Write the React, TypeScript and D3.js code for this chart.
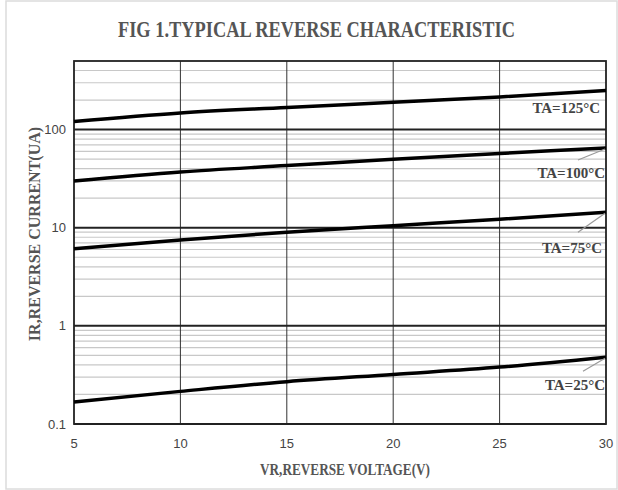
import React from 'react';
import * as d3 from 'd3';

const voltages = [5, 10, 15, 20, 25, 30];
const ta125 = [121, 148, 168, 190, 215, 250];
const ta100 = [30, 37, 43, 50, 57, 65];
const ta75 = [6.1, 7.5, 9.0, 10.5, 12.2, 14.4];
const ta25 = [0.168, 0.215, 0.27, 0.32, 0.38, 0.48];

const xTicks = [5, 10, 15, 20, 25, 30];
const yTicks = [0.1, 1, 10, 100];
const yTickLabels = ['0.1', '1', '10', '100'];

const seriesNames = ['TA=125°C', 'TA=100°C', 'TA=75°C', 'TA=25°C'];
const seriesValues = [ta125, ta100, ta75, ta25];

export default function App() {
  const width = 618;
  const height = 490;
  const margin = { top: 61, right: 12, bottom: 66, left: 74 };

  const x = d3.scaleLinear().domain([5, 30]).range([margin.left, width - margin.right]);
  const y = d3.scaleLog().domain([0.1, 500]).range([height - margin.bottom, margin.top]);

  // minor gridlines 2..9 in each decade
  const minors: number[] = [];
  for (let dec = 0.1; dec < 500; dec *= 10) {
    for (let k = 2; k <= 9; k++) {
      const v = +(dec * k).toPrecision(3);
      if (v < 500) minors.push(v);
    }
  }

  const line = d3.line<number>()
    .curve(d3.curveMonotoneX)
    .x((_, i) => x(voltages[i]))
    .y(d => y(d));

  // label placement relative to the curve end (px)
  const labelPos = [
    { dx: -6, dy: 22, lx: 0, ly: 0, len: 0 },
    { dx: -1, dy: 30, lx: -28, ly: 12, len: 1 },
    { dx: -4, dy: 41, lx: -28, ly: 20, len: 1 },
    { dx: -1, dy: 33, lx: -23, ly: 14, len: 1 },
  ];

  const serif = '"Liberation Serif", "Times New Roman", serif';
  const sans = '"Liberation Sans", Arial, sans-serif';

  return (
    <svg width={width} height={height} style={{ position: 'absolute', left: 0, top: 0, background: '#fff' }}>
      <rect x={6} y={1} width={611} height={488} fill="none" stroke="#dcdcdc" strokeWidth={1.5} />
      <text x={118} y={37} fontFamily={serif} fontWeight="bold" fontSize={24} fill="#555"
        textLength={397} lengthAdjust="spacingAndGlyphs">
        FIG 1.TYPICAL REVERSE CHARACTERISTIC
      </text>

      <g>
        {minors.map(v => (
          <line key={'m' + v} x1={x(5)} x2={x(30)} y1={y(v)} y2={y(v)} stroke="#c8c8c8" strokeWidth={1.2} />
        ))}
        {xTicks.slice(1, -1).map(t => (
          <line key={'v' + t} x1={x(t)} x2={x(t)} y1={y(500)} y2={y(0.1)} stroke="#333" strokeWidth={1} />
        ))}
        {yTicks.map(t => (
          <line key={'M' + t} x1={x(5)} x2={x(30)} y1={y(t)} y2={y(t)} stroke="#222" strokeWidth={2} />
        ))}
        <rect x={x(5)} y={y(500)} width={x(30) - x(5)} height={y(0.1) - y(500)} fill="none" stroke="#222" strokeWidth={1.8} />
      </g>

      <g fontFamily={sans} fontSize={13} fill="#444">
        {yTicks.map((t, i) => (
          <text key={'yl' + t} x={x(5) - 8} y={y(t)} dy="0.35em" textAnchor="end">{yTickLabels[i]}</text>
        ))}
        {xTicks.map(t => (
          <text key={'xl' + t} x={x(t)} y={y(0.1) + 19} dy="0.35em" textAnchor="middle">{t}</text>
        ))}
      </g>

      {seriesValues.map((vals, i) => (
        <path key={'s' + i} d={line(vals) || ''} fill="none" stroke="#000" strokeWidth={3.5} />
      ))}

      {seriesValues.map((vals, i) => {
        const ex = x(30);
        const ey = y(vals[vals.length - 1]);
        const p = labelPos[i];
        return (
          <g key={'lab' + i}>
            {p.len > 0 && (
              <line x1={ex - 1} y1={ey + 1} x2={ex + p.lx} y2={ey + p.ly} stroke="#999" strokeWidth={1.2} />
            )}
            <text x={ex + p.dx} y={ey + p.dy} textAnchor="end" fontFamily={serif} fontWeight="bold" fontSize={15} fill="#444">
              {seriesNames[i]}
            </text>
          </g>
        );
      })}

      <text x={260} y={475} fontFamily={serif} fontWeight="bold" fontSize={17} fill="#555"
        textLength={170} lengthAdjust="spacingAndGlyphs">
        VR,REVERSE VOLTAGE(V)
      </text>
      <text transform="translate(40,234) rotate(-90)" textAnchor="middle" fontFamily={serif} fontWeight="bold" fontSize={16} fill="#555">
        IR,REVERSE CURRENT(UA)
      </text>
    </svg>
  );
}
